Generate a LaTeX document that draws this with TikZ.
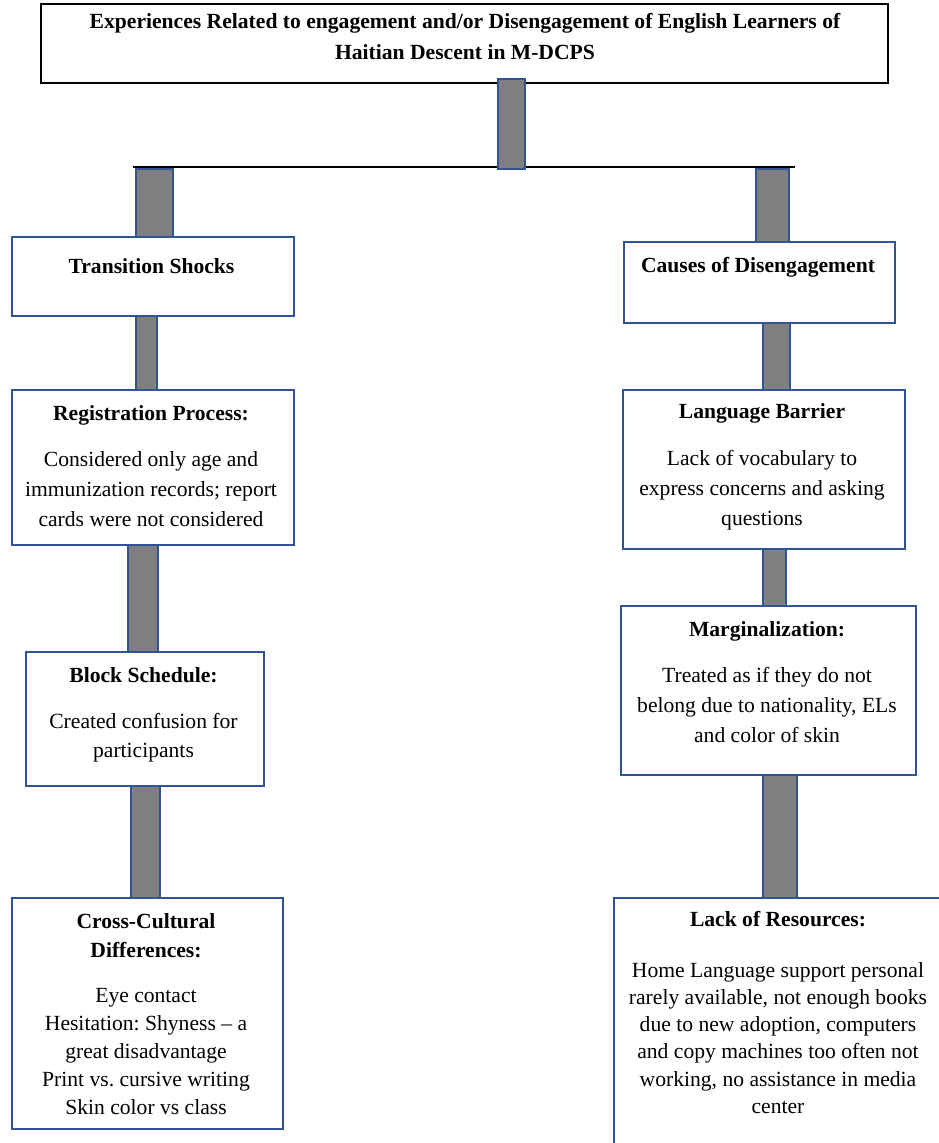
\documentclass[tikz,border=0pt]{standalone}
\usepackage{fontspec}
\setmainfont{Liberation Serif}
\usetikzlibrary{calc}
\frenchspacing
\definecolor{boxblue}{RGB}{47,85,151}
\definecolor{bargray}{RGB}{127,127,127}
\tikzset{
  box/.style={draw=boxblue, line width=1.6pt, inner sep=0pt, outer sep=0pt, anchor=north west, fill=white},
  titlebox/.style={box, draw=black, line width=1.2pt},
  bar/.style={draw=boxblue, fill=bargray, line width=1.6pt},
  hline/.style={draw=black, line width=1.3pt},
  txt/.style={inner sep=0pt, outer sep=0pt, align=center, font=\fontsize{21.6}{30}\selectfont\frenchspacing},
  ttl/.style={inner sep=0pt, outer sep=0pt, align=center, font=\fontsize{21.6}{29}\selectfont\bfseries\frenchspacing}
}
\begin{document}
\begin{tikzpicture}[x=1pt, y=-1pt]
\clip (0,0) rectangle (939,1143);
\fill[white] (0,0) rectangle (939,1143);

% boxes
\node[titlebox, minimum width=847pt, minimum height=79pt] (title) at (41,4) {};
\node[box, minimum width=282pt, minimum height=79pt] (ts) at (12,237) {};
\node[box, minimum width=271pt, minimum height=81pt] (cd) at (624,242) {};
\node[box, minimum width=282pt, minimum height=155pt] (reg) at (12,390) {};
\node[box, minimum width=282pt, minimum height=159pt] (lb) at (623,390) {};
\node[box, minimum width=238pt, minimum height=134pt] (bs) at (26,652) {};
\node[box, minimum width=295pt, minimum height=169pt] (mg) at (621,606) {};
\node[box, minimum width=271pt, minimum height=231pt] (cc) at (12,898) {};
\node[box, minimum width=346pt, minimum height=280pt] (lr) at (614,898) {};

% horizontal connector line
\coordinate (hlL) at (133,167);
\coordinate (hlR) at (795,167);
\draw[hline] (hlL) -- (hlR);
\coordinate (j0) at (525,169);
\coordinate (jL) at (136,169);
\coordinate (jR) at (756,169);

% bars (connectors)
\draw[bar] ($(title.south)+(33.5,-4)$) rectangle (j0);
\draw[bar] (jL) rectangle ($(ts.north)+(20,0)$);
\draw[bar] (jR) rectangle ($(cd.north)+(29.5,0)$);
\draw[bar] ($(ts.south)+(-17,0)$) rectangle ($(reg.north)+(4,0)$);
\draw[bar] ($(cd.south)+(3.5,0)$) rectangle ($(lb.north)+(26,0)$);
\draw[bar] ($(reg.south)+(-25,0)$) rectangle ($(bs.north)+(13,0)$);
\draw[bar] ($(lb.south)+(-1,0)$) rectangle ($(mg.north)+(17.5,0)$);
\draw[bar] ($(bs.south)+(-14,0)$) rectangle ($(cc.north)+(12.5,0)$);
\draw[bar] ($(mg.south)+(-5.5,0)$) rectangle ($(lr.north)+(10,0)$);

% texts
\node[ttl, anchor=base] (titleA) at (465,28) {Experiences Related to engagement and/or Disengagement of English Learners of};
\node[ttl, anchor=base] (titleB) at (465,59) {Haitian Descent in M-DCPS};

\node[ttl, anchor=base] (tsT) at (151.5,273) {Transition Shocks};
\node[ttl, anchor=base] (cdT) at (758,272) {Causes of Disengagement};

\node[ttl, anchor=base] (regT) at (151,420) {Registration Process:};
\node[txt, anchor=north] (regB) at (151,451.2) {Considered only age and\\immunization records; report\\cards were not considered};

\node[ttl, anchor=base] (lbT) at (762,418) {Language Barrier};
\node[txt, anchor=north] (lbB) at (762,450.2) {Lack of vocabulary to\\express concerns and asking\\questions};

\node[ttl, anchor=base] (bsT) at (143.5,682) {Block Schedule:};
\node[txt, anchor=north, font=\fontsize{21.6}{29}\selectfont\frenchspacing] (bsB) at (143.5,713.2) {Created confusion for\\participants};

\node[ttl, anchor=base] (mgT) at (767,636) {Marginalization:};
\node[txt, anchor=north] (mgB) at (767,667.2) {Treated as if they do not\\belong due to nationality, ELs\\and color of skin};

\node[ttl, anchor=north] (ccT) at (146,913.6) {Cross-Cultural\\Differences:};
\node[txt, anchor=north, font=\fontsize{21.6}{28}\selectfont\frenchspacing] (ccB) at (146,988.2) {Eye contact\\Hesitation: Shyness -- a\\great disadvantage\\Print vs. cursive writing\\Skin color vs class};

\node[ttl, anchor=base] (lrT) at (778,926) {Lack of Resources:};
\node[txt, anchor=north, font=\fontsize{21.6}{27.2}\selectfont\frenchspacing] (lrB) at (778,962.2) {Home Language support personal\\rarely available, not enough books\\due to new adoption, computers\\and copy machines too often not\\working, no assistance in media\\center};
\end{tikzpicture}
\end{document}
